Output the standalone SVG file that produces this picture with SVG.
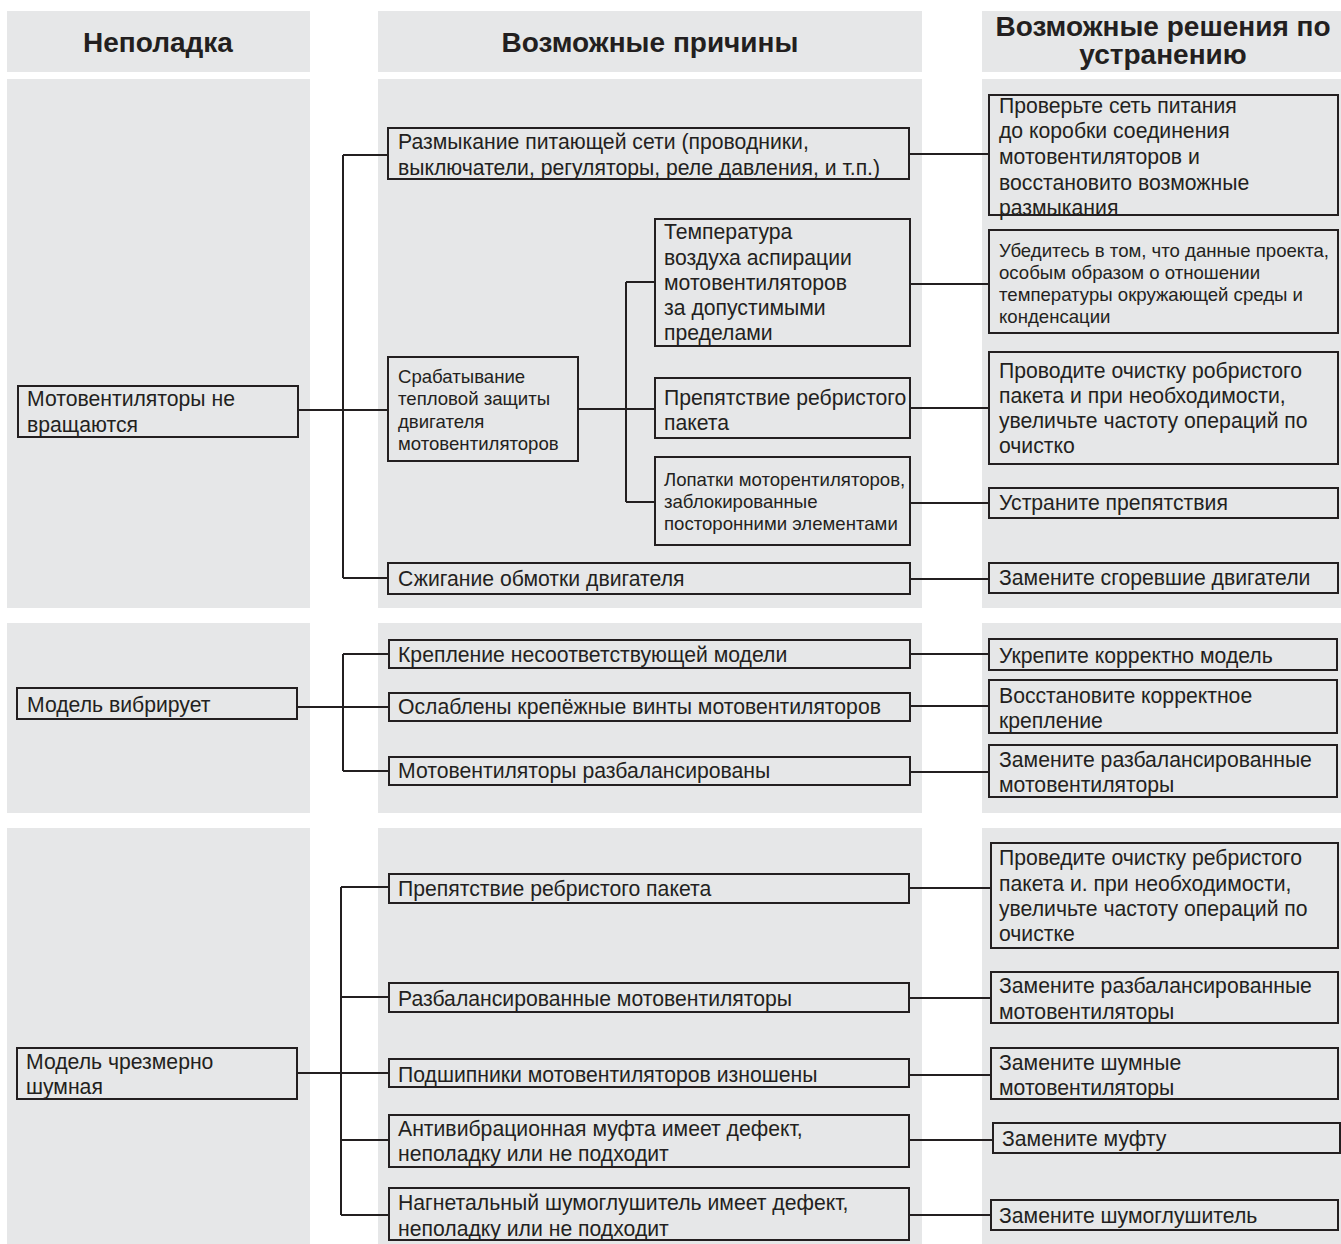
<svg xmlns="http://www.w3.org/2000/svg" width="1341" height="1244" viewBox="0 0 1341 1244">
<style>
.bg{fill:#e6e7e8}
.box{fill:none;stroke:#231f20;stroke-width:2}
.ln{fill:none;stroke:#231f20;stroke-width:2}
text{font-family:"Liberation Sans",Arial,sans-serif;fill:#231f20}
.h{font-size:28px;font-weight:bold;text-anchor:middle}
.t{font-size:21.2px}
.s{font-size:18.6px}
</style>
<rect width="1341" height="1244" fill="#ffffff"/>
<g id="panels">
<rect class="bg" x="7" y="11" width="303" height="61"/>
<rect class="bg" x="378" y="11" width="544" height="61"/>
<rect class="bg" x="982" y="11" width="359" height="61"/>
<rect class="bg" x="7" y="79" width="303" height="529"/>
<rect class="bg" x="378" y="79" width="544" height="529"/>
<rect class="bg" x="982" y="79" width="359" height="529"/>
<rect class="bg" x="7" y="623" width="303" height="190"/>
<rect class="bg" x="378" y="623" width="544" height="190"/>
<rect class="bg" x="982" y="623" width="359" height="190"/>
<rect class="bg" x="7" y="828" width="303" height="416"/>
<rect class="bg" x="378" y="828" width="544" height="416"/>
<rect class="bg" x="982" y="828" width="359" height="416"/>
</g>
<g id="headers">
<text class="h" x="158" y="52">Неполадка</text>
<text class="h" x="650" y="52">Возможные причины</text>
<text class="h" x="1163" y="36">Возможные решения по</text>
<text class="h" x="1163" y="64">устранению</text>
</g>
<g id="connectors">
<path class="ln" d="M343 155V578M343 155H388M298 410H388M343 578H388"/>
<path class="ln" d="M626 282V502M626 282H655M578 409H655M626 502H655"/>
<path class="ln" d="M910 154H989M910 284H989M910 408H989M910 503H989M910 579H989"/>
<path class="ln" d="M343 654V771M297 707H388M343 654H388M343 771H388"/>
<path class="ln" d="M910 654H989M910 706H989M910 772H989"/>
<path class="ln" d="M341 887V1215M297 1073H388M341 887H388M341 997H388M341 1140H388M341 1215H388"/>
<path class="ln" d="M909 888H991M909 998H991M909 1075H991M909 1140H993M909 1215H991"/>
</g>
<g id="n-p1"><rect class="box" x="18" y="386" width="280" height="51"/><text class="t" x="27" y="406">Мотовентиляторы не</text><text class="t" x="27" y="432">вращаются</text></g>
<g id="n-c1"><rect class="box" x="388" y="128" width="521" height="51"/><text class="t" x="398" y="149">Размыкание питающей сети (проводники,</text><text class="t" x="398" y="175">выключатели, регуляторы, реле давления, и т.п.)</text></g>
<g id="n-c2"><rect class="box" x="388" y="357" width="190" height="104"/><text class="s" x="398" y="383">Срабатывание</text><text class="s" x="398" y="405">тепловой защиты</text><text class="s" x="398" y="428">двигателя</text><text class="s" x="398" y="450">мотовентиляторов</text></g>
<g id="n-c2a"><rect class="box" x="655" y="219" width="255" height="127"/><text class="t" x="664" y="239">Температура</text><text class="t" x="664" y="265">воздуха аспирации</text><text class="t" x="664" y="290">мотовентиляторов</text><text class="t" x="664" y="315">за допустимыми</text><text class="t" x="664" y="340">пределами</text></g>
<g id="n-c2b"><rect class="box" x="655" y="378" width="255" height="60"/><text class="t" x="664" y="405">Препятствие ребристого</text><text class="t" x="664" y="430">пакета</text></g>
<g id="n-c2c"><rect class="box" x="655" y="457" width="255" height="88"/><text class="s" x="664" y="486">Лопатки моторентиляторов,</text><text class="s" x="664" y="508">заблокированные</text><text class="s" x="664" y="530">посторонними элементами</text></g>
<g id="n-c3"><rect class="box" x="388" y="563" width="522" height="31"/><text class="t" x="398" y="586">Сжигание обмотки двигателя</text></g>
<g id="n-s1"><rect class="box" x="989" y="95" width="349" height="120"/><text class="t" x="999" y="113">Проверьте сеть питания</text><text class="t" x="999" y="138">до коробки соединения</text><text class="t" x="999" y="164">мотовентиляторов и</text><text class="t" x="999" y="190">восстановито возможные</text><text class="t" x="999" y="215">размыкания</text></g>
<g id="n-s2"><rect class="box" x="989" y="230" width="349" height="103"/><text class="s" x="999" y="257">Убедитесь в том, что данные проекта,</text><text class="s" x="999" y="279">особым образом о отношении</text><text class="s" x="999" y="301">температуры окружающей среды и</text><text class="s" x="999" y="323">конденсации</text></g>
<g id="n-s3"><rect class="box" x="989" y="352" width="349" height="112"/><text class="t" x="999" y="378">Проводите очистку робристого</text><text class="t" x="999" y="403">пакета и при необходимости,</text><text class="t" x="999" y="428">увеличьте частоту операций по</text><text class="t" x="999" y="453">очистко</text></g>
<g id="n-s4"><rect class="box" x="989" y="488" width="349" height="30"/><text class="t" x="999" y="510">Устраните препятствия</text></g>
<g id="n-s5"><rect class="box" x="989" y="563" width="349" height="30"/><text class="t" x="999" y="585">Замените сгоревшие двигатели</text></g>
<g id="n-p2"><rect class="box" x="17" y="688" width="280" height="31"/><text class="t" x="27" y="712">Модель вибрирует</text></g>
<g id="n-c4"><rect class="box" x="389" y="640" width="521" height="28"/><text class="t" x="398" y="662">Крепление несоответствующей модели</text></g>
<g id="n-c5"><rect class="box" x="389" y="693" width="521" height="28"/><text class="t" x="398" y="714">Ослаблены крепёжные винты мотовентиляторов</text></g>
<g id="n-c6"><rect class="box" x="389" y="757" width="521" height="28"/><text class="t" x="398" y="778">Мотовентиляторы разбалансированы</text></g>
<g id="n-s6"><rect class="box" x="989" y="639" width="348" height="31"/><text class="t" x="999" y="663">Укрепите корректно модель</text></g>
<g id="n-s7"><rect class="box" x="989" y="680" width="348" height="53"/><text class="t" x="999" y="703">Восстановите корректное</text><text class="t" x="999" y="728">крепление</text></g>
<g id="n-s8"><rect class="box" x="989" y="745" width="348" height="52"/><text class="t" x="999" y="767">Замените разбалансированные</text><text class="t" x="999" y="792">мотовентиляторы</text></g>
<g id="n-p3"><rect class="box" x="17" y="1048" width="280" height="51"/><text class="t" x="26" y="1069">Модель чрезмерно</text><text class="t" x="26" y="1094">шумная</text></g>
<g id="n-c7"><rect class="box" x="389" y="874" width="520" height="29"/><text class="t" x="398" y="896">Препятствие ребристого пакета</text></g>
<g id="n-c8"><rect class="box" x="389" y="983" width="520" height="29"/><text class="t" x="398" y="1006">Разбалансированные мотовентиляторы</text></g>
<g id="n-c9"><rect class="box" x="389" y="1059" width="520" height="28"/><text class="t" x="398" y="1082">Подшипники мотовентиляторов изношены</text></g>
<g id="n-c10"><rect class="box" x="389" y="1115" width="520" height="52"/><text class="t" x="398" y="1136">Антивибрационная муфта имеет дефект,</text><text class="t" x="398" y="1161">неполадку или не подходит</text></g>
<g id="n-c11"><rect class="box" x="389" y="1188" width="520" height="52"/><text class="t" x="398" y="1210">Нагнетальный шумоглушитель имеет дефект,</text><text class="t" x="398" y="1236">неполадку или не подходит</text></g>
<g id="n-s9"><rect class="box" x="991" y="843" width="347" height="105"/><text class="t" x="999" y="865">Проведите очистку ребристого</text><text class="t" x="999" y="891">пакета и. при необходимости,</text><text class="t" x="999" y="916">увеличьте частоту операций по</text><text class="t" x="999" y="941">очистке</text></g>
<g id="n-s10"><rect class="box" x="991" y="972" width="347" height="51"/><text class="t" x="999" y="993">Замените разбалансированные</text><text class="t" x="999" y="1019">мотовентиляторы</text></g>
<g id="n-s11"><rect class="box" x="991" y="1048" width="347" height="51"/><text class="t" x="999" y="1070">Замените шумные</text><text class="t" x="999" y="1095">мотовентиляторы</text></g>
<g id="n-s12"><rect class="box" x="993" y="1123" width="347" height="30"/><text class="t" x="1002" y="1146">Замените муфту</text></g>
<g id="n-s13"><rect class="box" x="991" y="1200" width="347" height="30"/><text class="t" x="999" y="1223">Замените шумоглушитель</text></g>
</svg>
